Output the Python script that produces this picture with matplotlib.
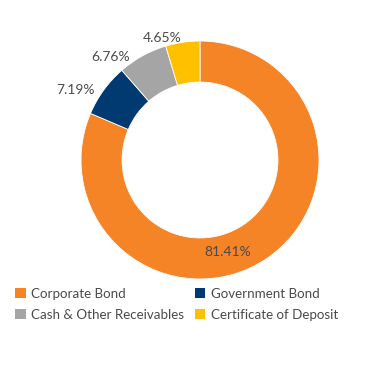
import numpy as np
import matplotlib
matplotlib.use("Agg")
import matplotlib.pyplot as plt
from matplotlib.patches import Patch

categories = ["Corporate Bond", "Government Bond", "Cash & Other Receivables", "Certificate of Deposit"]
values = [81.41, 7.19, 6.76, 4.65]
labels = ["81.41%", "7.19%", "6.76%", "4.65%"]
colors = ["#F58426", "#003A70", "#A5A5A5", "#FFC000"]

plt.rcParams['font.family'] = ['Lato', 'DejaVu Sans']
text_color = "#4A4A4A"

fig = plt.figure(figsize=(3.69, 3.90), dpi=100)
R_px = 119
cx, cy = 200, 160
W, H = 369, 390
ax = fig.add_axes([(cx - R_px) / W, (H - cy - R_px) / H, 2 * R_px / W, 2 * R_px / H])

wedges, _ = ax.pie(values, startangle=90, counterclock=False, radius=1,
                   colors=colors, wedgeprops=dict(width=0.345, edgecolor='white', linewidth=0.6))
ax.set_xlim(-1, 1)
ax.set_ylim(-1, 1)
ax.axis('off')

for i, w in enumerate(wedges):
    mid = (w.theta1 + w.theta2) / 2
    if values[i] > 50:
        a = np.deg2rad(mid - 17)
        r = 0.81
        ax.text(r * np.cos(a), r * np.sin(a), labels[i], ha='center', va='center',
                fontsize=10, color=text_color)
    else:
        a = np.deg2rad(mid + (4 if i == 2 else 0))
        r = 1.09
        ax.text(r * np.cos(a), r * np.sin(a), labels[i], ha='right', va='top',
                fontsize=10, color=text_color)

order = [0, 2, 1, 3]
handles = [Patch(facecolor=colors[k], edgecolor='none') for k in order]
leg = fig.legend(handles, [categories[k] for k in order], ncol=2, loc='upper left',
                 bbox_to_anchor=(15 / W, 1 - 288 / H), frameon=False,
                 prop={'size': 9.6},
                 handlelength=0.8, handleheight=0.8, handletextpad=0.4,
                 columnspacing=0.8, labelspacing=0.65, borderaxespad=0, borderpad=0)
for t in leg.get_texts():
    t.set_color(text_color)

fig.savefig("out.png", dpi=100)
